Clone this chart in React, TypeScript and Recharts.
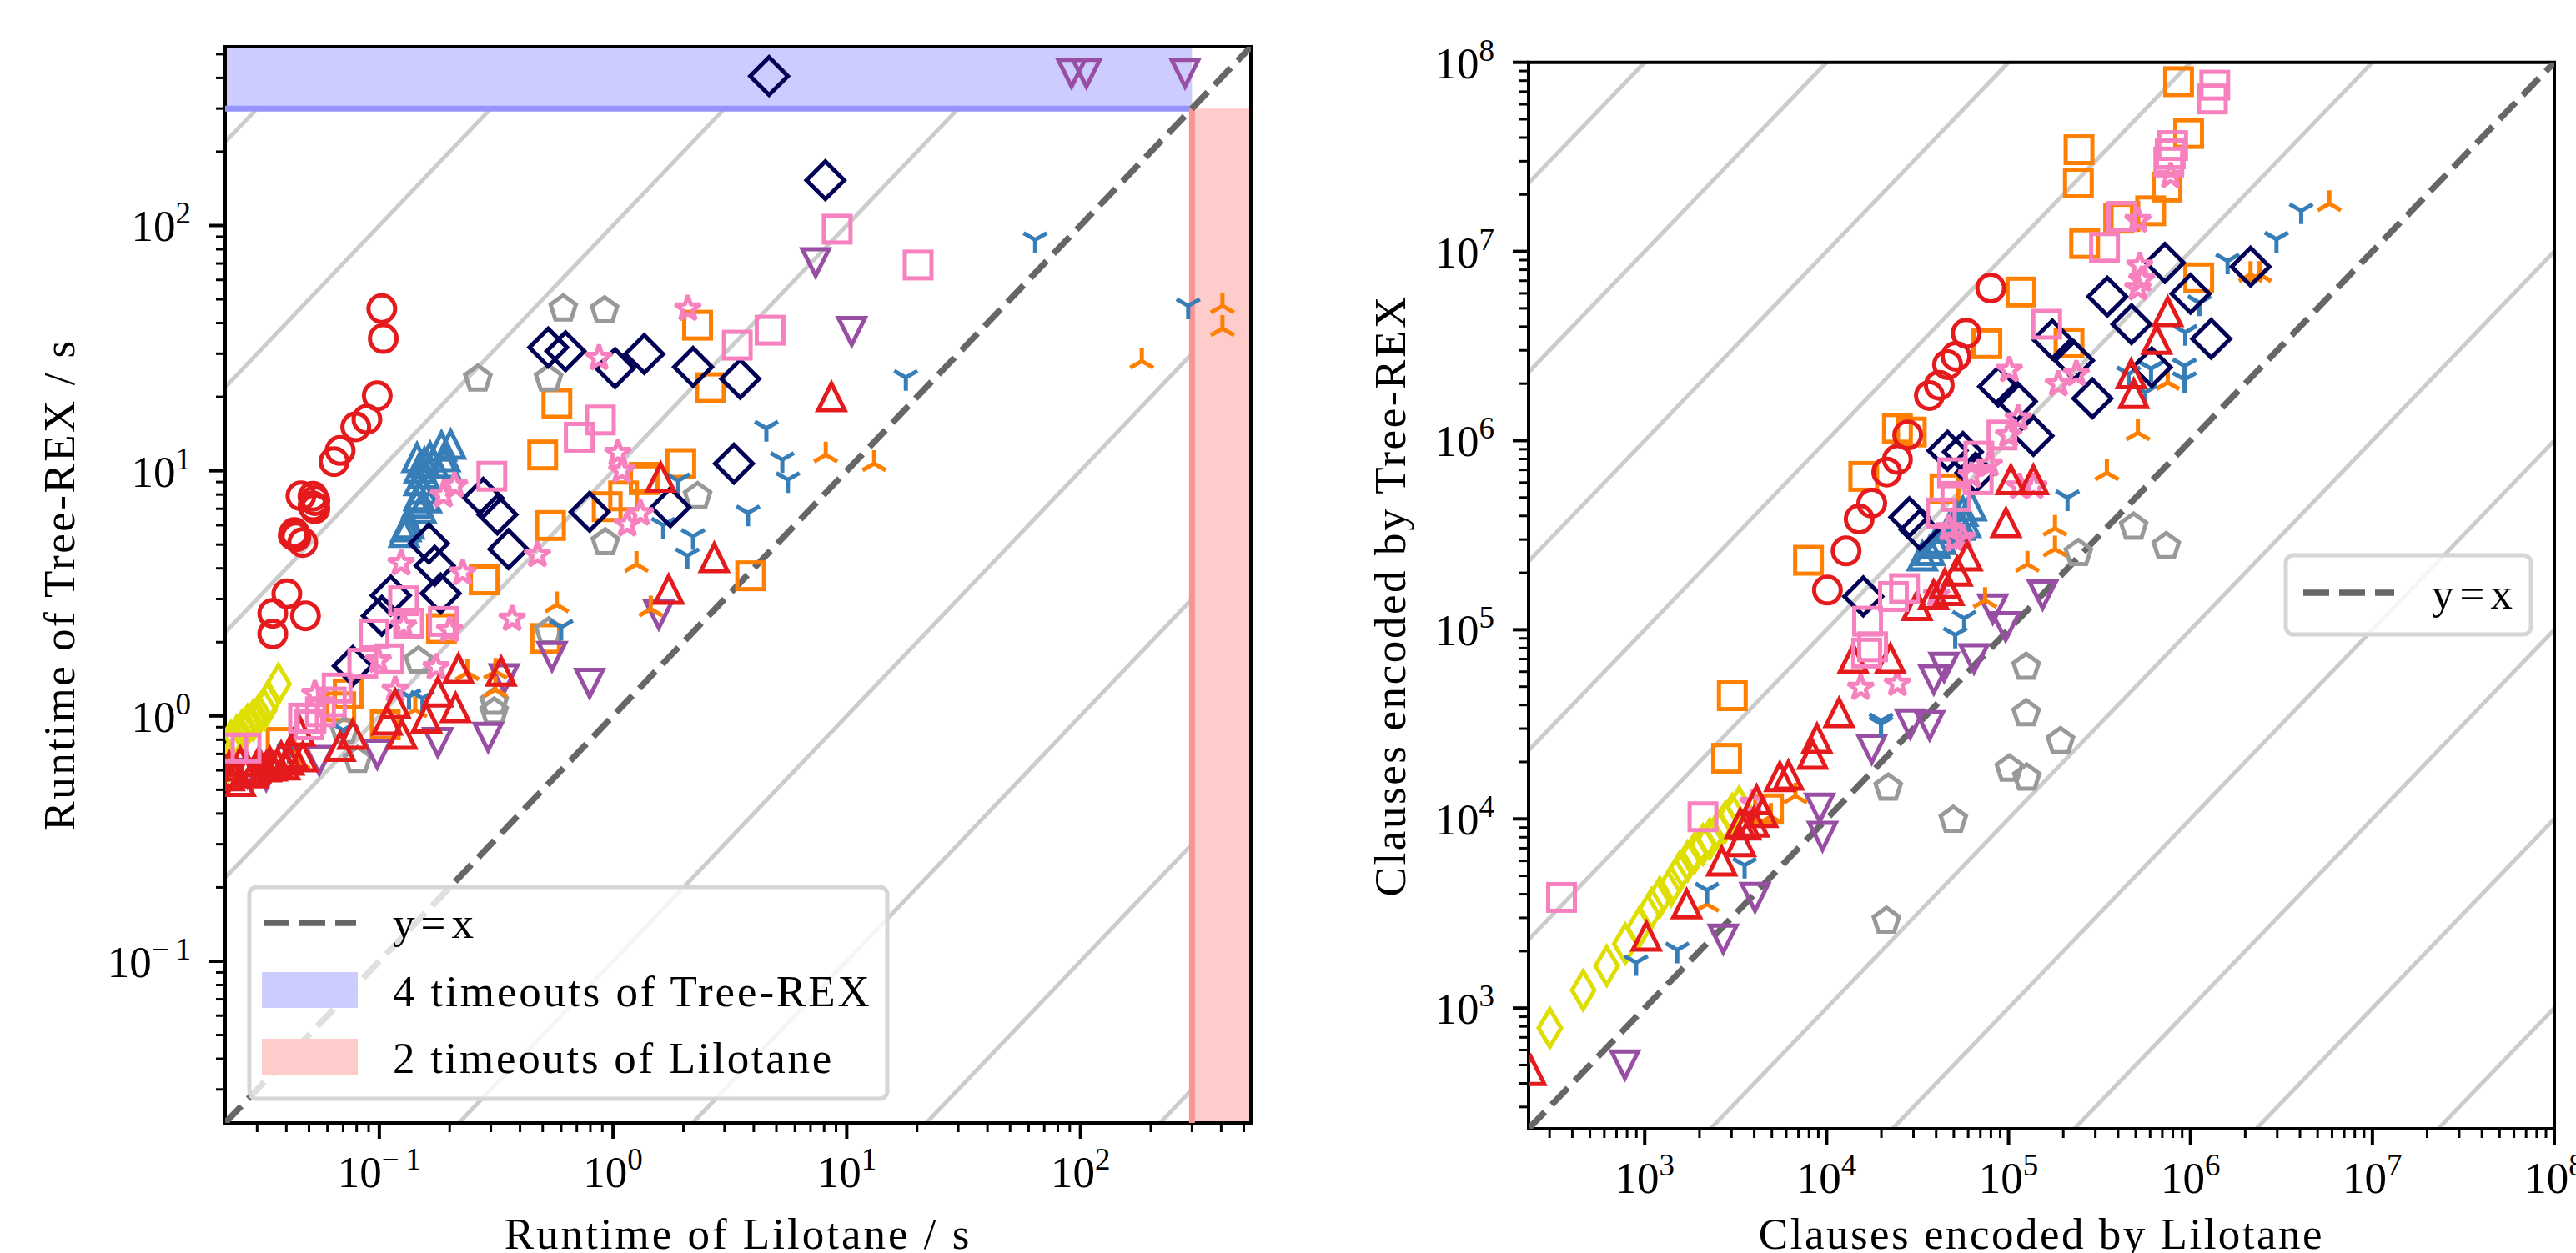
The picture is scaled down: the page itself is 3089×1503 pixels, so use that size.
// App.tsx - Tree-REX vs Lilotane log-log scatter plots
import React from "react";
import { ScatterChart, Scatter, XAxis, YAxis, ReferenceLine, ReferenceArea, Legend } from "recharts";

type Pt = [number, number];

const FONT = "'Liberation Serif', serif";
const COLORS = {
  red: "#e41a1c", blue: "#377eb8", orange: "#ff7f00", pink: "#f781bf",
  navy: "#000055", yellow: "#dede00", gray: "#999999", purple: "#984ea3",
};

// left panel: runtimes in seconds [Lilotane, Tree-REX]
const rtCircles: Pt[] = [[.1025,45.8],[.104,34.6],[.098,20.2],[.0885,16.2],[.0793,15.1],[.068,12.1],[.064,10.9],[.0462,7.9],[.052,7.87],[.053,7.56],[.052,7.18],[.053,7],[.0433,5.6],[.0428,5.46],[.044,5.38],[.047,5.1],[.0402,3.15],[.035,2.62],[.0483,2.56],[.035,2.16]];
const rtUpBlue: Pt[] = [[.202,12.8],[.1845,12.6],[.191,11.4],[.165,11.4],[.145,11.3],[.156,10.8],[.171,10.7],[.191,10.7],[.148,10.2],[.156,9.7],[.148,9.1],[.153,8.4],[.148,7.9],[.159,7.75],[.145,7.36],[.151,7],[.134,6.05],[.13,5.9],[.1276,5.6]];
const rtOrangeSq: Pt[] = [[2.3,39.2],[2.61,21.8],[.575,18.8],[.5,11.6],[1.95,10.7],[1.36,9.4],[.944,7.14],[1.11,7.9],[1.36,9.2],[.54,5.98],[.281,3.59],[3.88,3.73],[.1845,2.27],[.515,2.07],[.0736,1.23],[.0684,1.09],[.106,.92],[.038,.78]];
const rtYellow: Pt[] = [[.037,1.35],[.0334,1.15],[.0322,1.06],[.0305,1.01],[.0289,.96],[.0273,.92],[.0259,.875],[.0245,.83],[.0232,.79],[.0226,.65]];
const rtGray: Pt[] = [[.612,45.8],[.92,45],[.264,23.7],[.53,23.7],[2.3,7.87],[.927,5.1],[.531,2.21],[.147,1.68],[.0807,.66],[.31,1.14],[.31,1.04],[.071,.865]];
const rtPurple: Pt[] = [[91.6,418],[106,418],[280,418],[7.36,70.6],[10.5,37],[1.57,2.59],[.548,1.75],[.794,1.36],[.342,1.42],[.292,.82],[.178,.78],[.098,.7],[.0553,.66],[.0328,.57],[.0273,.585]];
const rtTriBlue: Pt[] = [[64,87.5],[289,47],[17.9,24],[4.53,14.9],[5.3,11.1],[5.6,9.2],[1.9,9.1],[3.78,6.73],[1.64,6],[2.2,5.4],[2.08,4.5],[.6,2.3],[.134,1.2],[.153,1.18],[.07,.875],[.041,.72]];
const rtTriOrange: Pt[] = [[405,47],[405,38],[183,28],[8.13,11.6],[13.1,10.7],[1.26,4.15],[.575,2.84],[1.45,2.73],[.314,1.52],[.314,1.28],[.1425,1.06],[.238,1.5],[.045,.65]];
const rtNavy: Pt[] = [[4.65,407],[8.1,153],[.528,31.8],[.626,30.7],[1.02,26.2],[1.36,29.9],[2.2,26.5],[3.5,23.7],[3.29,10.7],[.278,7.76],[.32,6.63],[.357,4.79],[.794,6.8],[1.76,7.1],[.163,5.05],[.1726,4.1],[.183,3.16],[.112,3.1],[.1025,2.56],[.077,1.6]];
const rtStars: Pt[] = [[2.09,45.8],[.871,28.8],[1.05,11.8],[1.09,10],[1.31,6.7],[1.15,6.05],[.21,8.7],[.188,7.95],[.475,4.54],[.124,4.2],[.2275,3.84],[.37,2.49],[.127,2.33],[.2,2.24],[.099,1.68],[.175,1.58],[.117,1.28],[.053,1.23]];
const rtUpRed: Pt[] = [[8.6,20],[1.6,9.4],[2.71,4.42],[1.73,3.28],[.218,1.56],[.332,1.52],[.178,1.25],[.212,1.08],[.159,.98],[.117,1.12],[.108,.96],[.125,.84],[.077,.84],[.068,.75],[.0457,.865],[.047,.68],[.0425,.7],[.041,.66],[.038,.684],[.0394,.63],[.0366,.64],[.0347,.624],[.034,.65],[.0328,.62],[.0305,.65],[.0294,.61],[.0289,.585],[.0273,.608],[.0254,.65],[.0254,.54],[.0244,.59],[.0228,.624],[.0228,.569]];
const rtPinkSq: Pt[] = [[9.1,96.6],[20.2,69],[4.7,37.4],[3.4,32.5],[.883,16.1],[.717,13.7],[.303,9.5],[.127,2.95],[.1335,2.39],[.188,2.43],[.095,2.16],[.11,1.71],[.085,1.64],[.066,1.3],[.0623,1.14],[.056,1.04],[.051,.98],[.0474,.98],[.05,.92],[.0269,.74],[.0236,.74]];

// right panel: clause counts [Lilotane, Tree-REX]
const clCircles: Pt[] = [[79800,6.4e6],[58500,3.69e6],[51400,2.79e6],[46200,2.52e6],[41600,1.96e6],[36700,1.73e6],[27900,1.07e6],[24500,7.95e5],[21400,6.82e5],[17700,4.67e5],[15100,3.85e5],[12800,2.61e5],[10100,1.62e5]];
const clUpBlue: Pt[] = [[33600,2.45e5],[36800,2.62e5],[39400,2.86e5],[42400,3e5],[47000,3.44e5],[50500,3.44e5],[52200,3.94e5],[54100,3.56e5],[56100,4.22e5],[58100,3.68e5],[62400,4.51e5]];
const clOrangeSq: Pt[] = [[8.6e5,7.9e7],[9.77e5,4.2e7],[2.44e5,3.45e7],[2.42e5,2.3e7],[7.43e5,2.19e7],[6.04e5,1.64e7],[4.36e5,1.53e7],[4.03e5,1.5e7],[2.62e5,1.1e7],[1.11e6,7.25e6],[1.17e5,6.1e6],[2.15e5,3.28e6],[7.6e4,3.25e6],[24500,1.16e6],[29200,1.11e6],[16000,6.47e5],[44700,5.56e5],[7950,2.33e5],[3030,44800],[2820,20900],[4790,11300]];
const clYellow: Pt[] = [[301,785],[459,1244],[618,1671],[782,2188],[931,2661],[1089,3365],[1210,3856],[1394,4417],[1550,5228],[1722,5984],[1880,6607],[2090,7325],[2280,7840],[2536,8672],[2768,9600],[3023,10600],[3300,11560]];
const clGray: Pt[] = [[4.87e5,3.5e5],[2.42e5,2.54e5],[7.36e5,2.76e5],[1.25e5,63500],[1.25e5,36100],[1.93e5,25700],[1.01e5,18400],[1.26e5,16500],[21800,14600],[49700,9860],[21300,2890]];
const clPurple: Pt[] = [[1.54e5,1.53e5],[81900,1.29e5],[96400,1.04e5],[64600,70300],[44200,63500],[38800,54600],[28800,31800],[36800,31200],[17700,23400],[9160,11400],[9490,8100],[4040,3850],[2700,2320],[778,501]];
const clTriBlue: Pt[] = [[4.06e6,1.64e7],[2.97e6,1.16e7],[1.6e6,8.9e6],[1.12e6,5.35e6],[9.36e5,3.73e6],[9.27e5,2.48e6],[9.27e5,2.1e6],[6.07e5,2.4e6],[4.57e5,2.25e6],[5.65e5,1.8e6],[2.11e5,4.99e5],[57000,1.15e5],[50900,93800],[19900,31800],[19900,33000],[3540,5690],[2200,4200],[1510,2030],[897,1740]];
const clTriOrange: Pt[] = [[5.8e6,1.79e7],[2.14e6,7.55e6],[2.4e6,7.55e6],[7.5e5,2.03e6],[5.14e5,1.1e6],[3.47e5,6.76e5],[1.8e5,3.44e5],[1.8e5,2.67e5],[1.27e5,2.22e5],[74300,1.43e5],[6740,13200],[4940,10300],[2200,3540]];
const clNavy: Pt[] = [[7.23e5,8.7e6],[2.14e6,8.3e6],[3.49e5,5.77e6],[1e6,5.97e6],[4.74e5,4.12e6],[1.3e6,3.45e6],[1.74e5,3.42e6],[2.29e5,2.65e6],[6.12e5,2.44e6],[2.89e5,1.67e6],[87700,1.93e6],[1.11e5,1.61e6],[1.37e5,1.06e6],[46200,8.85e5],[56100,8.71e5],[65800,6.76e5],[28500,3.94e5],[32500,3.38e5],[15900,1.5e5]];
const clStars: Pt[] = [[5.14e5,1.46e7],[7.78e5,2.51e7],[5.26e5,8.4e6],[5.4e5,7.08e6],[5.14e5,6.39e6],[1.01e5,2.36e6],[1.88e5,1.99e6],[2.36e5,2.25e6],[1.13e5,1.31e6],[1e5,1.07e6],[78400,7.48e5],[62400,6.53e5],[1.15e5,5.71e5],[1.38e5,5.71e5],[47000,3.44e5],[56100,3.06e5],[50500,3e5],[40200,1.53e5],[15400,49300],[24500,51800],[3930,12100]];
const clUpRed: Pt[] = [[7.5e5,4.8e6],[6.52e5,3.42e6],[4.72e5,2.25e6],[4.87e5,1.77e6],[1.03e5,6.21e5],[1.37e5,6.21e5],[96800,3.68e5],[59200,2.45e5],[52200,2.04e5],[47000,1.61e5],[44600,1.75e5],[38700,1.53e5],[31400,1.34e5],[14000,70300],[22400,70300],[11700,36400],[8850,26600],[8380,21900],[5530,16700],[6170,17000],[4120,12600],[4450,10800],[3350,9440],[3980,9600],[3600,9270],[3360,7570],[2650,5980],[1700,3550],[1020,2400],[237,467]];
const clPinkSq: Pt[] = [[1.36e6,7.57e7],[1.32e6,6.4e7],[7.98e5,3.63e7],[7.74e5,3.28e7],[7.6e5,2.97e7],[4.2e5,1.53e7],[3.37e5,1.05e7],[1.62e5,4.12e6],[92000,1.07e6],[68700,8.28e5],[49200,6.76e5],[68100,6.21e5],[51300,5.07e5],[42700,4.14e5],[26800,1.65e5],[23300,1.5e5],[16800,1.11e5],[17900,81300],[16600,75300],[2090,10260],[349,3846]];

const RT_DOMAIN: Pt = [0.0219, 536];
const CL_DOMAIN: Pt = [230, 1e8];
const TIMEOUT = 300;
const RT_DECADES = [0.01, 0.1, 1, 10, 100];
const CL_DECADES = [100, 1e3, 1e4, 1e5, 1e6, 1e7, 1e8];
const MULTIPLES = [1, 2, 3, 4, 5, 6, 7, 8, 9];
const RT_GUIDES = [1e4, 1e3, 100, 10, 0.1, 0.01, 1e-3, 1e-4];
const CL_GUIDES = [1e5, 1e4, 1e3, 100, 10, 0.1, 0.01, 1e-3, 1e-4, 1e-5];

const allTicks = (decades: number[], domain: Pt) =>
  decades.flatMap((d) => MULTIPLES.map((m) => d * m)).filter((v) => v >= domain[0] && v <= domain[1] * 1.0001);

const exponent = (v: number) => Math.log10(v);
const isMajor = (v: number) => Math.abs(exponent(v) - Math.round(exponent(v))) < 1e-6;

// "10" with a raised exponent; the minus sign gets extra room like the LaTeX one
const PowerLabel = ({ value }: { value: number }) => {
  const e = Math.round(exponent(value));
  return (
    <>
      10
      {e < 0 ? (
        <tspan dy={-21} fontSize={37}>{"\u2212"}<tspan dx={8}>{-e}</tspan></tspan>
      ) : (
        <tspan dy={-21} fontSize={37}>{e}</tspan>
      )}
    </>
  );
};

const XTick = ({ x, y, payload }: any) => {
  const major = isMajor(payload.value);
  return (
    <g>
      <line x1={x} x2={x} y1={y} y2={y + (major ? 19 : 11)} stroke="#000" strokeWidth={major ? 4 : 3} />
      {major && (
        <text x={x} y={y + 77} textAnchor="middle" fontFamily={FONT} fontSize={53} fill="#000">
          <PowerLabel value={payload.value} />
        </text>
      )}
    </g>
  );
};

const YTick = ({ x, y, payload }: any) => {
  const major = isMajor(payload.value);
  return (
    <g>
      <line x1={x - (major ? 19 : 11)} x2={x} y1={y} y2={y} stroke="#000" strokeWidth={major ? 4 : 3} />
      {major && (
        <text x={x - 41} y={y + 19} textAnchor="end" fontFamily={FONT} fontSize={53} fill="#000">
          <PowerLabel value={payload.value} />
        </text>
      )}
    </g>
  );
};

const R = 16;
const outline = { fill: "none", strokeWidth: 5, strokeMiterlimit: 10 };

const regular = (cx: number, cy: number, n: number, r: number, inner?: number) => {
  const pts: string[] = [];
  const count = inner ? n * 2 : n;
  for (let i = 0; i < count; i++) {
    const a = (i * 2 * Math.PI) / count;
    const rad = inner && i % 2 ? inner : r;
    pts.push(`${cx + rad * Math.sin(a)},${cy - rad * Math.cos(a)}`);
  }
  return pts.join(" ");
};

const marker = (kind: string, color: string) => (props: any) => {
  const { cx, cy } = props;
  const p = { ...outline, stroke: color };
  switch (kind) {
    case "circle":
      return <circle cx={cx} cy={cy} r={R} {...p} />;
    case "square":
      return <rect x={cx - R} y={cy - R} width={2 * R} height={2 * R} {...p} />;
    case "diamond":
      return <polygon points={`${cx},${cy - 22.6} ${cx + 22.6},${cy} ${cx},${cy + 22.6} ${cx - 22.6},${cy}`} {...p} />;
    case "thin":
      return <polygon points={`${cx},${cy - 22.6} ${cx + 13.5},${cy} ${cx},${cy + 22.6} ${cx - 13.5},${cy}`} {...p} />;
    case "up":
      return <polygon points={`${cx},${cy - R} ${cx + R},${cy + R} ${cx - R},${cy + R}`} {...p} />;
    case "down":
      return <polygon points={`${cx},${cy + R} ${cx + R},${cy - R} ${cx - R},${cy - R}`} {...p} />;
    case "pentagon":
      return <polygon points={regular(cx, cy, 5, R)} {...p} />;
    case "star":
      return <polygon points={regular(cx, cy, 5, R, R * 0.382)} {...p} strokeLinejoin="bevel" />;
    case "tridown":
      return <path d={`M${cx} ${cy}V${cy + R}M${cx} ${cy}L${cx + R * 0.87} ${cy - R / 2}M${cx} ${cy}L${cx - R * 0.87} ${cy - R / 2}`} {...p} />;
    default:
      return <path d={`M${cx} ${cy}V${cy - R}M${cx} ${cy}L${cx + R * 0.87} ${cy + R / 2}M${cx} ${cy}L${cx - R * 0.87} ${cy + R / 2}`} {...p} />;
  }
};

const toRows = (pts: Pt[]) => pts.map(([x, y]) => ({ x, y }));

const series = (list: [string, Pt[], string, string][]) =>
  list.map(([name, pts, kind, color]) => (
    <Scatter key={name} name={name} data={toRows(pts)} shape={marker(kind, color)} isAnimationActive={false} />
  ));

const rtSeries: [string, Pt[], string, string][] = [
  ["rtOrangeSq", rtOrangeSq, "square", COLORS.orange],
  ["rtCircles", rtCircles, "circle", COLORS.red],
  ["rtYellow", rtYellow, "thin", COLORS.yellow],
  ["rtGray", rtGray, "pentagon", COLORS.gray],
  ["rtPurple", rtPurple, "down", COLORS.purple],
  ["rtTriOrange", rtTriOrange, "triup", COLORS.orange],
  ["rtTriBlue", rtTriBlue, "tridown", COLORS.blue],
  ["rtUpBlue", rtUpBlue, "up", COLORS.blue],
  ["rtNavy", rtNavy, "diamond", COLORS.navy],
  ["rtStars", rtStars, "star", COLORS.pink],
  ["rtUpRed", rtUpRed, "up", COLORS.red],
  ["rtPinkSq", rtPinkSq, "square", COLORS.pink],
];

const clSeries: [string, Pt[], string, string][] = [
  ["clOrangeSq", clOrangeSq, "square", COLORS.orange],
  ["clCircles", clCircles, "circle", COLORS.red],
  ["clYellow", clYellow, "thin", COLORS.yellow],
  ["clGray", clGray, "pentagon", COLORS.gray],
  ["clPurple", clPurple, "down", COLORS.purple],
  ["clTriOrange", clTriOrange, "triup", COLORS.orange],
  ["clTriBlue", clTriBlue, "tridown", COLORS.blue],
  ["clUpBlue", clUpBlue, "up", COLORS.blue],
  ["clNavy", clNavy, "diamond", COLORS.navy],
  ["clStars", clStars, "star", COLORS.pink],
  ["clUpRed", clUpRed, "up", COLORS.red],
  ["clPinkSq", clPinkSq, "square", COLORS.pink],
];

const guideLines = (ratios: number[], domain: Pt, limit: number) =>
  ratios.map((r) => {
    const endX = Math.min(limit, limit / r);
    return (
      <ReferenceLine
        key={r}
        segment={[{ x: domain[0], y: r * domain[0] }, { x: endX, y: r * endX }]}
        stroke="rgba(0,0,0,0.2)"
        strokeWidth={5}
        ifOverflow="hidden"
      />
    );
  });

const diagonal = (domain: Pt) => (
  <ReferenceLine
    segment={[{ x: domain[0], y: domain[0] }, { x: domain[1], y: domain[1] }]}
    stroke="#666666"
    strokeWidth={7.5}
    strokeDasharray="28 12"
    ifOverflow="hidden"
  />
);

const legendText = { fontFamily: FONT, fontSize: 53, fill: "#000" };

const RuntimeLegend = () => (
  <svg width={775} height={264} style={{ display: "block" }}>
    <rect x={4} y={4} width={765} height={254} rx={9} fill="rgba(255,255,255,0.8)" stroke="#d6d6d6" strokeWidth={5} />
    <line x1={21} x2={132} y1={47} y2={47} stroke="#666666" strokeWidth={7.5} strokeDasharray="31 12" />
    <text x={176} y={65} {...legendText} letterSpacing={7}>y=x</text>
    <rect x={19} y={106} width={115} height={43} fill="#ccccff" />
    <text x={176} y={147} {...legendText} letterSpacing={2.9}>4 timeouts of Tree-REX</text>
    <rect x={19} y={186} width={115} height={43} fill="#ffcccc" />
    <text x={176} y={227} {...legendText} letterSpacing={2.7}>2 timeouts of Lilotane</text>
  </svg>
);

const ClauseLegend = () => (
  <svg width={302} height={103} style={{ display: "block" }}>
    <rect x={4} y={4} width={294} height={95} rx={9} fill="rgba(255,255,255,0.8)" stroke="#d6d6d6" strokeWidth={5} />
    <line x1={25} x2={134} y1={49} y2={49} stroke="#666666" strokeWidth={7.5} strokeDasharray="31 12" />
    <text x={179} y={68} {...legendText} letterSpacing={7}>y=x</text>
  </svg>
);

const titleStyle = (spacing: number) => ({ fontFamily: FONT, fontSize: 53, fill: "#000", textAnchor: "middle" as const, letterSpacing: spacing });

export default function App() {
  return (
    <div style={{ position: "absolute", left: 0, top: 0, width: 3089, height: 1503, background: "#fff", overflow: "hidden" }}>
      <div style={{ position: "absolute", left: 0, top: 0 }}>
        <ScatterChart width={1560} height={1503} margin={{ top: 56, right: 60, bottom: 0, left: 0 }}>
          <XAxis
            dataKey="x" type="number" scale="log" domain={RT_DOMAIN} allowDataOverflow height={156}
            ticks={allTicks(RT_DECADES, RT_DOMAIN)} interval={0} tick={<XTick />} tickLine={false} axisLine={false} tickSize={0} tickMargin={0}
            label={{ value: "Runtime of Lilotane / s", position: "insideBottom", offset: 5, style: titleStyle(3) }}
          />
          <YAxis
            dataKey="y" type="number" scale="log" domain={RT_DOMAIN} allowDataOverflow width={270}
            ticks={allTicks(RT_DECADES, RT_DOMAIN)} interval={0} tick={<YTick />} tickLine={false} axisLine={false} tickSize={0} tickMargin={0}
            label={{ value: "Runtime of Tree-REX / s", angle: -90, position: "insideLeft", offset: 70, style: titleStyle(2.5) }}
          />
          <ReferenceArea x1={RT_DOMAIN[0]} x2={TIMEOUT} y1={TIMEOUT} y2={RT_DOMAIN[1]} fill="#0000ff" fillOpacity={0.2} stroke="none" ifOverflow="hidden" />
          <ReferenceArea x1={TIMEOUT} x2={RT_DOMAIN[1]} y1={RT_DOMAIN[0]} y2={TIMEOUT} fill="#ff0000" fillOpacity={0.2} stroke="none" ifOverflow="hidden" />
          {guideLines(RT_GUIDES, RT_DOMAIN, TIMEOUT)}
          <ReferenceLine segment={[{ x: RT_DOMAIN[0], y: TIMEOUT }, { x: TIMEOUT, y: TIMEOUT }]} stroke="#9494fb" strokeWidth={7} ifOverflow="hidden" />
          <ReferenceLine segment={[{ x: TIMEOUT, y: RT_DOMAIN[0] }, { x: TIMEOUT, y: TIMEOUT }]} stroke="#fb9494" strokeWidth={7} ifOverflow="hidden" />
          {diagonal(RT_DOMAIN)}
          {series(rtSeries)}
          <ReferenceArea x1={RT_DOMAIN[0]} x2={RT_DOMAIN[1]} y1={RT_DOMAIN[0]} y2={RT_DOMAIN[1]} fill="none" stroke="#000" strokeWidth={4} />
          <Legend layout="vertical" align="center" verticalAlign="middle" wrapperStyle={{ left: 295, top: 1060, width: 775, height: 264 }} content={() => <RuntimeLegend />} />
        </ScatterChart>
      </div>
      <div style={{ position: "absolute", left: 1600, top: 0 }}>
        <ScatterChart width={1489} height={1503} margin={{ top: 74.7, right: 26, bottom: 0, left: 0 }}>
          <XAxis
            dataKey="x" type="number" scale="log" domain={CL_DOMAIN} allowDataOverflow height={149}
            ticks={allTicks(CL_DECADES, CL_DOMAIN)} interval={0} tick={<XTick />} tickLine={false} axisLine={false} tickSize={0} tickMargin={0}
            label={{ value: "Clauses encoded by Lilotane", position: "insideBottom", offset: 5, style: titleStyle(2.5) }}
          />
          <YAxis
            dataKey="y" type="number" scale="log" domain={CL_DOMAIN} allowDataOverflow width={233}
            ticks={allTicks(CL_DECADES, CL_DOMAIN)} interval={0} tick={<YTick />} tickLine={false} axisLine={false} tickSize={0} tickMargin={0}
            label={{ value: "Clauses encoded by Tree-REX", angle: -90, position: "insideLeft", offset: 66, style: titleStyle(2.6) }}
          />
          {guideLines(CL_GUIDES, CL_DOMAIN, CL_DOMAIN[1])}
          {diagonal(CL_DOMAIN)}
          {series(clSeries)}
          <ReferenceArea x1={CL_DOMAIN[0]} x2={CL_DOMAIN[1]} y1={CL_DOMAIN[0]} y2={CL_DOMAIN[1]} fill="none" stroke="#000" strokeWidth={4} />
          <Legend layout="vertical" align="center" verticalAlign="middle" wrapperStyle={{ left: 1137, top: 662, width: 302, height: 103 }} content={() => <ClauseLegend />} />
        </ScatterChart>
      </div>
    </div>
  );
}
